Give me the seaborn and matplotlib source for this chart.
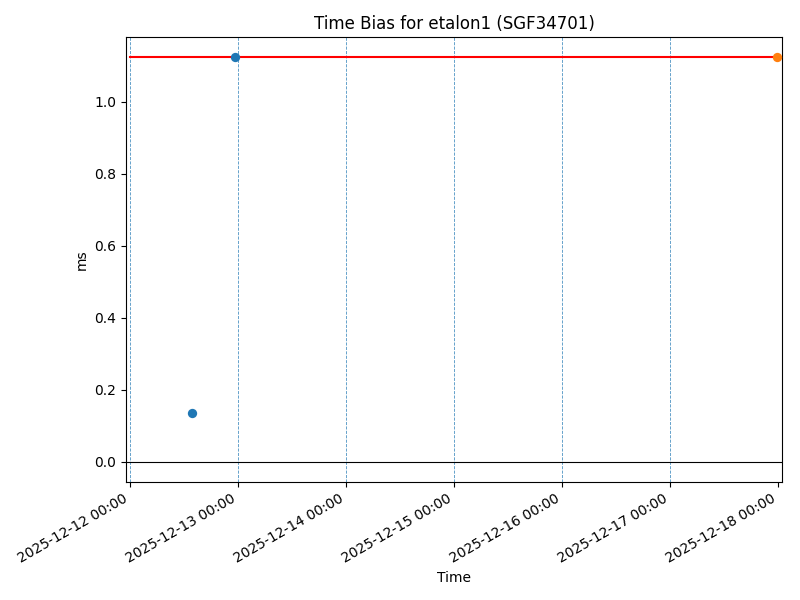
import pandas as pd
import seaborn as sns
import matplotlib
matplotlib.use("Agg")
import matplotlib.pyplot as plt
import matplotlib.dates as mdates

# measured time bias points (ms)
bias_times = pd.to_datetime(["2025-12-12 13:45", "2025-12-12 23:25"])
bias_values = [0.135, 1.124]

# latest point
last_times = pd.to_datetime(["2025-12-17 23:50"])
last_values = [1.124]

# reference level
ref_times = pd.to_datetime(["2025-12-12 00:00", "2025-12-17 23:50"])
ref_values = [1.124, 1.124]

day_lines = pd.date_range("2025-12-12", "2025-12-17", freq="D")

fig, ax = plt.subplots(figsize=(8, 6), dpi=100)

for d in day_lines:
    ax.axvline(d, color="#1f77b4", linestyle="--", linewidth=0.6, alpha=0.8)

ax.axhline(0, color="black", linewidth=0.8)

sns.lineplot(x=ref_times, y=ref_values, color="red", linewidth=1.5, ax=ax)
sns.scatterplot(x=bias_times, y=bias_values, color="#1f77b4", s=45, linewidth=0, ax=ax, zorder=3)
sns.scatterplot(x=last_times, y=last_values, color="#ff7f0e", s=45, linewidth=0, ax=ax, zorder=3)

ax.set_xlim(pd.Timestamp("2025-12-11 23:07"), pd.Timestamp("2025-12-18 00:53"))
ax.xaxis.set_major_locator(mdates.DayLocator())
ax.xaxis.set_major_formatter(mdates.DateFormatter("%Y-%m-%d %H:%M"))
plt.setp(ax.get_xticklabels(), rotation=30, ha="right")

ax.set_title("Time Bias for etalon1 (SGF34701)")
ax.set_xlabel("Time")
ax.set_ylabel("ms")

plt.subplots_adjust(left=0.1575, right=0.9775, top=0.938, bottom=0.197)
plt.savefig("out.png")
